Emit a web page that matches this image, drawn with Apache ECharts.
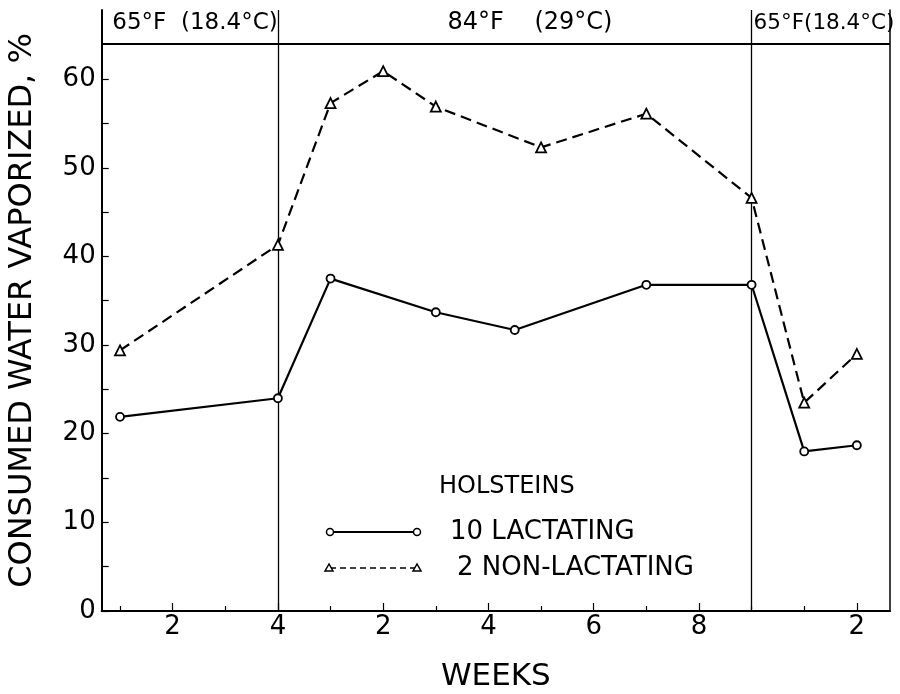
<!DOCTYPE html>
<html>
<head>
<meta charset="utf-8">
<script src="https://cdn.jsdelivr.net/npm/echarts@6/dist/echarts.min.js"></script>
<style>
html,body{margin:0;padding:0;background:#fff;}
#chart{width:900px;height:694px;}
</style>
</head>
<body>
<div id="chart"></div>
<script>
// ---- data (x = continuous week index across the three periods) ----
const lactWeeks  = [1, 4, 5, 7, 8.5, 11, 13, 14, 15];
const lactValues = [21.9, 24.0, 37.5, 33.7, 31.7, 36.8, 36.8, 18.0, 18.7];
const nonWeeks   = [1, 4, 5, 6, 7, 9, 11, 13, 14, 15];
const nonValues  = [29.4, 41.3, 57.3, 60.9, 56.9, 52.3, 56.1, 46.6, 23.5, 29.0];

const minorTickPos = [1, 3, 5, 7, 9, 11, 13, 14];
const majorTickPos = [2, 4, 6, 8, 10, 12, 15];
const majorTickLabels = ['2', '4', '2', '4', '6', '8', '2'];
const yTickPos  = [0, 5, 10, 15, 20, 25, 30, 35, 40, 45, 50, 55, 60];
const yLabelPos = [0, 10, 20, 30, 40, 50, 60];
const periodDividers = [4, 13];
const periodTopLine = 64.0;
const periodLabels = ['65°F  (18.4°C)', '84°F    (29°C)', '65°F(18.4°C)'];

const X_MIN = 0.652, X_MAX = 15.63, Y_MAX = 67.8;
const FONT = 'DejaVu Sans';

const chart = echarts.init(document.getElementById('chart'), null, {renderer: 'canvas'});

const xBase = {
  type: 'value', min: X_MIN, max: X_MAX, position: 'bottom',
  splitLine: {show: false}
};

const option = {
  backgroundColor: '#fff',
  animation: false,
  grid: {left: 101.7, right: 10, top: 10, bottom: 83, containLabel: false, outerBoundsMode: 'none'},
  xAxis: [
    Object.assign({}, xBase, {
      axisLine: {show: true, onZero: false, lineStyle: {color: '#000', width: 2}},
      axisTick: {show: true, inside: true, length: 5, customValues: minorTickPos, lineStyle: {color: '#000', width: 1.2}},
      axisLabel: {show: false},
      name: 'WEEKS', nameLocation: 'middle', nameGap: 50,
      nameTextStyle: {fontFamily: FONT, fontSize: 31, color: '#000'}
    }),
    Object.assign({}, xBase, {
      axisLine: {show: false},
      axisTick: {show: true, inside: true, length: 8, customValues: majorTickPos, lineStyle: {color: '#000', width: 1.2}},
      axisLabel: {
        show: true, customValues: majorTickPos, margin: 3,
        fontFamily: FONT, fontSize: 26, color: '#000',
        formatter: function (v) {
          const i = majorTickPos.indexOf(v);
          return i >= 0 ? majorTickLabels[i] : '';
        }
      }
    })
  ],
  yAxis: [
    {
      type: 'value', min: 0, max: Y_MAX, position: 'left',
      splitLine: {show: false},
      axisLine: {show: true, onZero: false, lineStyle: {color: '#000', width: 2}},
      axisTick: {show: true, inside: true, length: 7, customValues: yTickPos, lineStyle: {color: '#000', width: 1.2}},
      axisLabel: {show: true, customValues: yLabelPos, margin: 6, fontFamily: FONT, fontSize: 26, color: '#000'},
      name: 'CONSUMED WATER VAPORIZED, %', nameLocation: 'middle', nameRotate: 90, nameGap: 63,
      nameTextStyle: {fontFamily: FONT, fontSize: 32, color: '#000'}
    },
    {
      type: 'value', min: 0, max: Y_MAX, position: 'right',
      splitLine: {show: false},
      axisLine: {show: true, onZero: false, lineStyle: {color: '#000', width: 1.5}},
      axisTick: {show: false}, axisLabel: {show: false}
    }
  ],
  series: [
    {
      name: '10 LACTATING', type: 'line', xAxisIndex: 0, yAxisIndex: 0,
      data: lactWeeks.map((w, i) => [w, lactValues[i]]),
      symbol: 'circle', symbolSize: 8, showAllSymbol: true,
      lineStyle: {color: '#000', width: 2.2},
      itemStyle: {color: '#fff', borderColor: '#000', borderWidth: 1.8},
      z: 5,
      markLine: {
        silent: true, symbol: ['none', 'none'], label: {show: false},
        lineStyle: {color: '#000', type: 'solid', width: 1.3},
        data: periodDividers.map(d => ({xAxis: d})).concat([{yAxis: periodTopLine, lineStyle: {width: 2}}])
      }
    },
    {
      name: '2 NON-LACTATING', type: 'line', xAxisIndex: 0, yAxisIndex: 0,
      data: nonWeeks.map((w, i) => [w, nonValues[i]]),
      symbol: 'triangle', symbolSize: 10, showAllSymbol: true,
      lineStyle: {color: '#000', width: 2.2, type: [11, 6]},
      itemStyle: {color: '#fff', borderColor: '#000', borderWidth: 1.8},
      z: 5
    }
  ],
  graphic: [
    {type: 'text', x: 195, y: 23, style: {text: periodLabels[0], fontFamily: FONT, fontSize: 23, fill: '#000', align: 'center', verticalAlign: 'middle'}},
    {type: 'text', x: 530, y: 23, style: {text: periodLabels[1], fontFamily: FONT, fontSize: 24, fill: '#000', align: 'center', verticalAlign: 'middle'}},
    {type: 'text', x: 824, y: 23, style: {text: periodLabels[2], fontFamily: FONT, fontSize: 21.5, fill: '#000', align: 'center', verticalAlign: 'middle'}},
    // legend
    {type: 'text', x: 439, y: 487, style: {text: 'HOLSTEINS', fontFamily: FONT, fontSize: 24, fill: '#000', align: 'left', verticalAlign: 'middle'}},
    {type: 'line', shape: {x1: 330, y1: 532, x2: 417, y2: 532}, style: {stroke: '#000', lineWidth: 2}},
    {type: 'circle', shape: {cx: 330, cy: 532, r: 3.5}, style: {fill: '#fff', stroke: '#000', lineWidth: 1.5}},
    {type: 'circle', shape: {cx: 417, cy: 532, r: 3.5}, style: {fill: '#fff', stroke: '#000', lineWidth: 1.5}},
    {type: 'text', x: 450, y: 532, style: {text: '10 LACTATING', fontFamily: FONT, fontSize: 26, fill: '#000', align: 'left', verticalAlign: 'middle'}},
    {type: 'line', shape: {x1: 330, y1: 568, x2: 417, y2: 568}, style: {stroke: '#000', lineWidth: 1.5, lineDash: [6, 4]}},
    {type: 'polygon', shape: {points: [[329, 564], [325, 571], [333, 571]]}, style: {fill: '#fff', stroke: '#000', lineWidth: 1.5}},
    {type: 'polygon', shape: {points: [[417, 564], [413, 571], [421, 571]]}, style: {fill: '#fff', stroke: '#000', lineWidth: 1.5}},
    {type: 'text', x: 457, y: 568, style: {text: '2 NON-LACTATING', fontFamily: FONT, fontSize: 26, fill: '#000', align: 'left', verticalAlign: 'middle'}}
  ]
};

chart.setOption(option);
</script>
</body>
</html>
